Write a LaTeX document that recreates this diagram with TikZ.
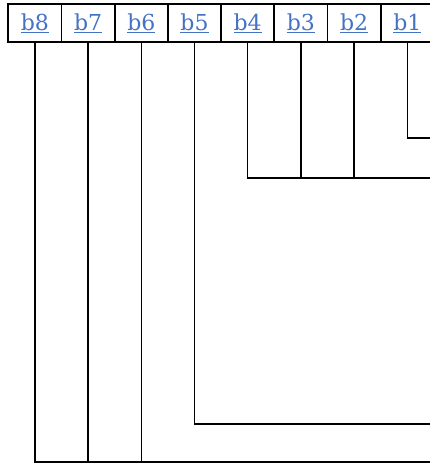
\documentclass[tikz,border=0pt]{standalone}
\usepackage{fontspec}
\setmainfont{DejaVu Serif}
\definecolor{linkblue}{HTML}{4472C4}
\tikzset{
  cell/.style={draw=black, line width=1.7pt, minimum width=53.2pt, minimum height=38.3pt,
    inner sep=0pt, font=\fontsize{22}{24}\selectfont, text=linkblue},
  wire/.style={draw=black, line width=1.4pt}
}
\newcommand{\lnk}[1]{\raisebox{2.5pt}{\underline{#1}}}
\begin{document}
\begin{tikzpicture}[x=1pt,y=-1pt]
\useasboundingbox (0,0) rectangle (430,463);
\begin{scope}
\clip (0,0) rectangle (430,463);
\foreach \k [count=\i from 0] in {8,7,6,5,4,3,2,1} {
  \node[cell] (b\k) at ({8.3+53.2*\i+26.6},23.15) {\lnk{b\k}};
}
\coordinate (e1) at (431,138);
\coordinate (e2) at (431,178);
\coordinate (e3) at (431,424);
\coordinate (e4) at (431,462);
\draw[wire] (b1.south) |- (e1);
\draw[wire] (b4.south) |- (e2);
\draw[wire] (b3.south) -- (b3.south |- e2);
\draw[wire] (b2.south) -- (b2.south |- e2);
\draw[wire] (b5.south) |- (e3);
\draw[wire] (b8.south) |- (e4);
\draw[wire] (b7.south) -- (b7.south |- e4);
\draw[wire] (b6.south) -- (b6.south |- e4);
\end{scope}
\end{tikzpicture}
\end{document}
